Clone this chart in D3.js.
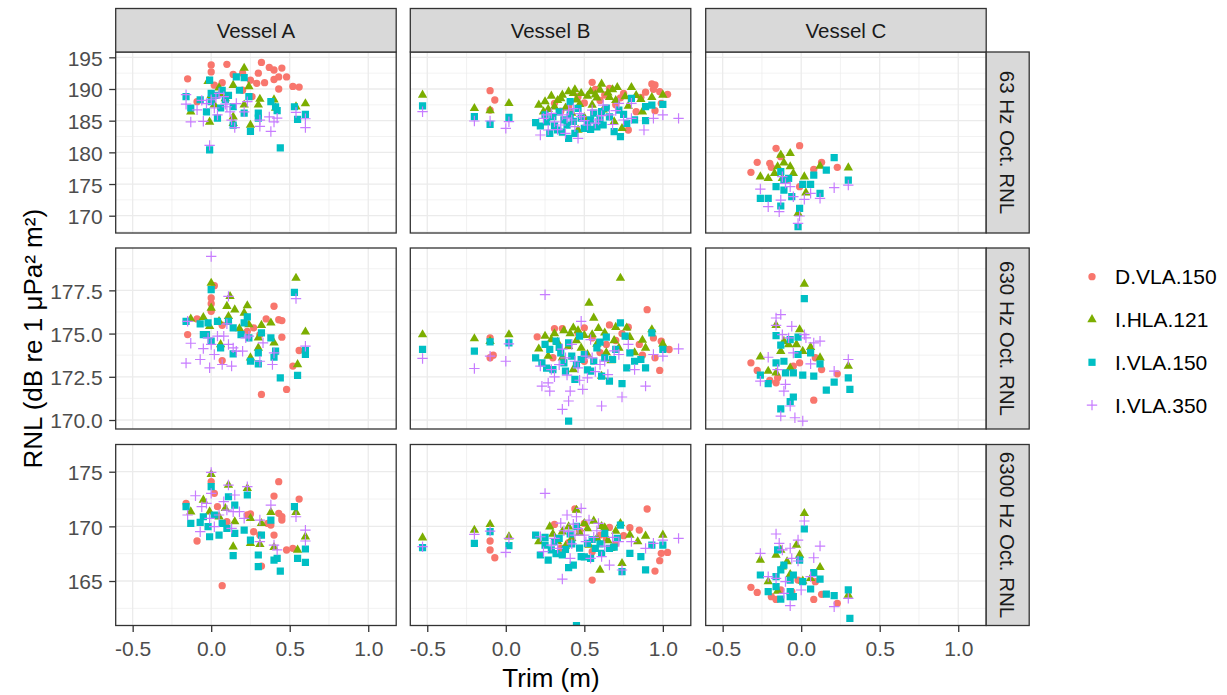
<!DOCTYPE html>
<html>
<head>
<meta charset="utf-8">
<script src="https://cdn.jsdelivr.net/npm/d3@7"></script>
<style>
  body { margin: 0; background: #ffffff; }
  svg { display: block; font-family: "Liberation Sans", Arial, sans-serif; }
</style>
</head>
<body>
<svg id="chart" width="1227" height="695"></svg>
<script>
// Facet labels, series and tick values
const vessels = ["Vessel A", "Vessel B", "Vessel C"];
const bands = ["63 Hz Oct. RNL", "630 Hz Oct. RNL", "6300 Hz Oct. RNL"];
const seriesNames = ["D.VLA.150", "I.HLA.121", "I.VLA.150", "I.VLA.350"];
const seriesColors = ["#F8766D", "#7CAE00", "#00BFC4", "#C77CFF"];
const xTicks = [-0.5, 0, 0.5, 1.0];
const yTicks63 = [170, 175, 180, 185, 190, 195];
const yTicks630 = [170, 172.5, 175, 177.5];
const yTicks6300 = [165, 170, 175];
const xDomain = [-0.608, 1.178];
const yDomain63 = [167.27, 195.84];
const yDomain630 = [169.48, 179.95];
const yDomain6300 = [160.93, 177.49];

// [trim (m), RNL (dB)] per vessel, band and array
const A63_D = [[-0.15,191.6],[0,193.8],[0,192.7],[0.1,193.9],[0.07,191.0],[0.14,192.3],[0.2,192.5],[0.25,191.4],[0.29,190.9],[0.32,194.2],[0.3,192.5],[0.37,193.4],[0.4,193.0],[0.45,193.3],[0.4,191.5],[0.43,191.9],[0.48,191.9],[0.43,190.0],[0.52,190.4],[0.56,190.3],[0.34,191.0],[-0.09,188.0],[0.02,190.6],[0.2,189.8],[0.26,188.8]];
const A63_H = [[-0.13,186.4],[-0.02,191.2],[-0.01,184.8],[0.06,189.3],[0.14,190.6],[0.21,193.3],[0.24,190.4],[0.21,187.5],[0.31,188.4],[0.3,187.5],[0.25,184.3],[0.4,188.3],[0.41,187.0],[0.54,187.2],[0.6,187.7],[0.14,185.6],[0.09,188.5],[0.02,187.5],[0.14,184.6],[0.0,189.0],[0.05,190.2]];
const A63_V = [[-0.16,188.8],[-0.13,187.0],[-0.07,188.3],[-0.01,191.4],[-0.01,180.4],[0,189.3],[-0.03,186.4],[0.04,185.4],[0.07,189.8],[0.11,189.0],[0.16,191.9],[0.21,191.8],[0.18,189.8],[0.24,188.8],[0.14,187.2],[0.14,184.3],[0.21,186.2],[0.25,183.3],[0.3,186.2],[0.38,188.0],[0.41,187.2],[0.42,186.6],[0.44,180.7],[0.53,187.2],[0.55,185.2],[0.6,186.0],[0.3,185.4],[0.06,187.0],[0.0,188.0],[0.03,189.0],[0.09,188.3]];
const A63_W = [[-0.16,189.1],[-0.16,187.6],[-0.13,184.8],[-0.05,184.9],[-0.01,181.1],[0,188.3],[0.02,187.0],[0.04,185.9],[0.08,188.8],[0.1,187.2],[0.13,185.1],[0.16,187.7],[0.15,183.9],[0.23,188.0],[0.21,186.4],[0.31,185.1],[0.31,184.1],[0.37,185.6],[0.38,183.3],[0.4,184.8],[0.42,185.4],[0.54,186.3],[0.6,185.3],[0.6,183.9],[-0.03,187.7],[-0.09,186.7],[0.12,186.4],[0.05,189.3],[0.03,188.6],[-0.06,188.2],[0.09,187.6]];

const A630_D = [[-0.15,174.94],[-0.09,175.85],[0.02,177.77],[0,177.06],[0,176.73],[0,176.29],[0.07,175.48],[0.07,173.44],[0.27,175.33],[0.35,175.85],[0.4,176.58],[0.43,175.8],[0.45,175.75],[0.45,174.79],[0.32,171.48],[0.48,171.77],[0.52,173.12],[0.56,174.02],[0.31,174.94],[0.23,175.13]];
const A630_H = [[-0.13,175.85],[-0.05,175.94],[0,177.92],[0,176.48],[-0.01,175.42],[0.05,175.71],[0.1,176.58],[0.12,177.15],[0.15,176.38],[0.11,176.0],[0.23,176.62],[0.21,176.19],[0.24,175.52],[0.18,175.29],[0.32,175.48],[0.38,175.62],[0.4,174.46],[0.3,174.75],[0.3,174.17],[0.25,173.6],[0.54,178.21],[0.55,173.21],[0.6,175.1],[0.06,174.37]];
const A630_V = [[-0.16,175.71],[-0.07,175.56],[0,177.54],[-0.02,175.62],[-0.03,174.94],[0,174.56],[0.04,175.71],[0.06,174.17],[0.11,175.71],[0.14,175.33],[0.14,173.83],[0.19,174.94],[0.21,175.62],[0.23,175.96],[0.24,174.75],[0.25,173.4],[0.3,173.25],[0.3,173.88],[0.32,175.04],[0.38,174.75],[0.41,173.98],[0.4,173.63],[0.44,172.44],[0.53,177.38],[0.55,172.58],[0.6,174.02],[0.6,173.79],[-0.05,174.94]];
const A630_W = [[0,179.46],[-0.16,173.29],[-0.15,175.71],[-0.13,174.44],[-0.07,173.5],[-0.05,174.13],[-0.02,174.75],[-0.01,173.02],[0,174.37],[0.02,173.79],[0.04,174.85],[0.07,173.21],[0.08,174.85],[0.1,175.56],[0.11,177.15],[0.11,174.37],[0.13,173.12],[0.14,174.17],[0.16,173.98],[0.2,173.98],[0.22,174.75],[0.24,174.85],[0.31,173.4],[0.33,174.46],[0.39,173.21],[0.4,173.88],[0.54,177.02],[0.6,174.27]];

const A6300_D = [[-0.16,172.1],[-0.09,168.66],[0,174.09],[0.02,173.02],[0.07,164.57],[0.04,171.8],[0.1,170.43],[0.23,171.04],[0.25,171.13],[0.27,169.51],[0.31,169.2],[0.32,166.37],[0.36,170.27],[0.4,172.77],[0.43,174.09],[0.4,169.2],[0.43,171.19],[0.45,170.58],[0.45,170.88],[0.48,167.84],[0.52,167.99],[0.56,172.5],[0.38,170.12]];
const A6300_H = [[-0.13,171.34],[-0.05,172.41],[0,174.76],[-0.01,171.34],[0.05,170.88],[0.11,173.78],[0.14,168.14],[0.15,170.43],[0.23,173.48],[0.25,170.73],[0.25,168.45],[0.31,168.35],[0.32,170.27],[0.38,171.28],[0.4,168.08],[0.54,171.28],[0.55,167.84],[0.6,169.05],[0.09,171.65]];
const A6300_V = [[-0.16,171.8],[-0.13,170.27],[-0.07,170.37],[-0.05,170.88],[-0.02,169.97],[-0.01,169.05],[0,173.63],[0.02,171.04],[0.05,169.2],[0.07,170.27],[0.1,169.82],[0.11,172.71],[0.14,167.32],[0.15,169.36],[0.15,171.95],[0.21,169.66],[0.23,172.87],[0.25,168.75],[0.3,166.31],[0.3,167.38],[0.32,169.2],[0.38,170.58],[0.4,166.92],[0.42,167.07],[0.44,165.91],[0.53,171.8],[0.55,167.07],[0.6,166.71],[0.6,167.93]];
const A6300_W = [[0,174.94],[-0.15,171.04],[-0.1,172.8],[-0.07,169.51],[-0.06,171.8],[-0.03,172.1],[-0.01,170.73],[0,173.02],[0.02,169.97],[0.05,171.04],[0.08,172.26],[0.1,171.49],[0.11,173.78],[0.13,169.82],[0.14,171.34],[0.15,172.87],[0.18,171.34],[0.21,170.73],[0.23,173.63],[0.31,170.58],[0.31,168.6],[0.38,171.95],[0.4,168.29],[0.42,167.84],[0.54,170.88],[0.6,169.66],[0.6,168.66]];

const B63_D = [[-0.1,189.74],[-0.07,188.26],[-0.1,186.68],[0.55,191.05],[0.57,189.95],[0.63,189.05],[0.75,189.32],[0.78,183.53],[0.86,188.68],[0.83,186.42],[0.93,190.79],[0.95,190.63],[0.94,189.95],[0.98,189.58],[1.03,189.16],[0.95,186.58],[0.99,187.74],[0.31,187.74],[0.46,188.79],[0.4,187.2],[0.6,188.2],[0.7,187.5],[0.35,186.5],[0.5,187.8],[0.66,190.1],[0.89,189.5],[0.73,188.6]];
const B63_H = [[-0.53,189.05],[-0.2,186.95],[-0.1,186.58],[0.02,187.74],[0.21,187.47],[0.25,188.0],[0.29,188.89],[0.36,189.05],[0.4,189.58],[0.43,189.32],[0.48,189.32],[0.54,189.58],[0.61,190.79],[0.6,189.84],[0.66,188.68],[0.71,190.26],[0.76,188.79],[0.8,190.26],[0.86,188.37],[0.93,188.68],[1.0,189.05],[0.24,186.42],[0.46,183.53],[0.69,184.84],[0.74,183.79],[0.87,186.42],[0.31,187.21],[0.55,187.47],[0.33,188.2],[0.38,187.0],[0.45,188.3],[0.52,188.9],[0.58,188.6],[0.65,189.4],[0.7,188.2],[0.78,187.3],[0.27,186.8],[0.42,186.2],[0.5,185.5],[0.62,186.7],[0.35,188.5],[0.44,189.9],[0.57,189.1],[0.68,189.9],[0.83,189.0],[0.47,187.6]];
const B63_V = [[-0.53,187.32],[-0.2,185.63],[-0.1,184.42],[0.02,185.53],[0.19,184.68],[0.22,184.16],[0.25,185.9],[0.28,183.0],[0.33,183.53],[0.37,185.11],[0.4,182.21],[0.41,188.0],[0.44,183.0],[0.5,183.79],[0.54,185.11],[0.54,183.63],[0.61,186.42],[0.62,184.32],[0.69,183.26],[0.73,182.47],[0.72,186.68],[0.77,184.58],[0.8,188.53],[0.89,187.21],[0.93,187.47],[1.0,187.58],[0.89,185.0],[0.82,185.11],[0.6,185.11],[0.46,186.95],[0.3,185.63],[0.34,186.4],[0.39,184.3],[0.48,185.4],[0.56,186.2],[0.66,185.6],[0.26,184.8],[0.43,184.9],[0.52,184.5],[0.36,183.2],[0.41,185.9],[0.58,184.0],[0.64,187.0],[0.75,186.0],[0.31,184.2]];
const B63_W = [[-0.53,186.42],[-0.2,184.95],[-0.1,184.95],[0,183.79],[0.02,184.84],[0.22,182.74],[0.24,185.37],[0.27,183.53],[0.29,186.16],[0.35,184.32],[0.38,183.0],[0.4,186.68],[0.42,185.11],[0.46,182.21],[0.48,185.63],[0.52,184.32],[0.55,186.68],[0.59,185.11],[0.62,187.47],[0.66,185.9],[0.72,187.74],[0.75,185.11],[0.8,185.37],[0.8,187.74],[0.88,183.53],[0.94,185.37],[1.0,185.9],[1.1,185.37],[0.36,185.9],[0.44,184.05],[0.31,184.8],[0.39,185.4],[0.47,186.1],[0.57,184.6],[0.68,184.4],[0.33,183.6],[0.43,186.9],[0.5,185.0],[0.61,185.8],[0.7,186.6],[0.26,185.9]];

const B630_D = [[-0.1,174.75],[-0.08,173.75],[-0.1,173.6],[0.2,174.81],[0.31,175.29],[0.36,175.29],[0.46,175.04],[0.5,175.33],[0.64,174.37],[0.78,175.37],[0.85,174.37],[0.9,176.38],[0.94,174.75],[0.99,174.56],[0.98,172.87],[1.04,174.08],[0.95,173.6],[0.55,174.75],[0.87,173.75],[0.4,174.3],[0.6,173.9],[0.7,174.6],[0.3,173.6],[0.5,173.4],[0.74,175.0],[0.66,175.5]];
const B630_H = [[-0.53,174.94],[-0.2,174.71],[-0.1,174.56],[0.02,174.94],[0.25,174.85],[0.29,174.65],[0.37,175.17],[0.43,175.33],[0.46,175.17],[0.53,176.77],[0.56,175.9],[0.63,175.04],[0.7,175.37],[0.73,178.21],[0.77,175.33],[0.79,174.79],[0.87,174.62],[0.93,175.23],[1.0,174.4],[0.21,174.12],[0.4,174.27],[0.48,174.17],[0.55,174.94],[0.61,172.54],[0.67,173.44],[0.72,174.17],[0.89,174.17],[0.43,172.92],[0.52,173.79],[0.33,174.5],[0.36,173.6],[0.45,174.6],[0.58,174.4],[0.64,173.9],[0.82,173.9],[0.27,173.7],[0.5,174.9],[0.41,175.0],[0.59,175.3],[0.69,174.6],[0.31,175.0]];
const B630_V = [[-0.53,174.08],[-0.2,173.98],[-0.1,174.52],[0.02,174.46],[0.19,173.6],[0.23,173.31],[0.25,174.37],[0.28,174.08],[0.3,172.92],[0.35,173.88],[0.38,172.83],[0.4,174.46],[0.4,169.94],[0.44,172.35],[0.47,174.85],[0.5,173.79],[0.54,172.83],[0.58,174.17],[0.61,172.54],[0.63,173.6],[0.66,172.25],[0.7,174.08],[0.73,175.62],[0.74,172.1],[0.76,174.85],[0.79,173.88],[0.77,173.02],[0.86,173.5],[0.89,173.02],[0.93,175.04],[1.0,174.08],[0.32,174.56],[0.37,173.3],[0.42,173.7],[0.45,173.2],[0.52,172.9],[0.56,173.4],[0.6,174.5],[0.68,173.5],[0.26,173.0],[0.34,174.2],[0.48,173.5],[0.64,174.8],[0.82,173.4]];
const B630_W = [[-0.53,173.56],[-0.2,172.98],[-0.1,173.69],[0,173.4],[0.02,174.4],[0.25,177.25],[0.22,173.12],[0.23,171.96],[0.27,172.15],[0.28,171.67],[0.36,170.62],[0.38,173.6],[0.4,171.1],[0.41,171.67],[0.42,174.37],[0.44,173.4],[0.48,175.71],[0.49,171.77],[0.52,172.44],[0.54,174.65],[0.55,173.6],[0.6,173.21],[0.61,170.81],[0.65,172.63],[0.72,173.79],[0.74,171.33],[0.78,174.37],[0.82,172.92],[0.89,171.96],[0.94,173.79],[1.0,173.69],[1.1,174.12],[0.29,172.92],[0.46,173.02],[0.34,173.2],[0.39,172.6],[0.47,172.3],[0.57,172.8],[0.31,172.5],[0.36,174.1],[0.51,173.7],[0.63,173.4],[0.69,174.0]];

const B6300_D = [[-0.1,168.66],[-0.1,167.84],[-0.07,167.13],[0.31,170.18],[0.44,171.59],[0.5,170.27],[0.55,165.09],[0.64,168.84],[0.79,169.88],[0.85,169.66],[0.9,171.59],[0.95,165.91],[0.98,166.86],[0.99,167.53],[1.03,167.62],[0.75,169.15],[0.55,167.68],[0.4,168.5],[0.6,169.2],[0.35,168.0],[0.7,168.4],[0.47,169.6],[0.66,169.9]];
const B6300_H = [[-0.53,168.96],[-0.2,169.66],[-0.1,170.18],[0.02,169.05],[0.28,169.97],[0.36,169.51],[0.4,169.97],[0.45,171.49],[0.5,170.27],[0.56,170.49],[0.63,169.88],[0.7,169.57],[0.73,170.27],[0.79,169.21],[0.89,169.12],[1.0,169.21],[0.6,166.01],[0.74,166.62],[0.53,168.29],[0.67,167.99],[0.21,168.6],[0.33,168.6],[0.42,168.9],[0.47,169.4],[0.58,168.9],[0.65,168.7],[0.38,168.2],[0.3,169.3],[0.52,169.8],[0.61,170.0],[0.84,168.6]];
const B6300_V = [[-0.53,168.05],[-0.2,168.45],[-0.1,169.51],[0.02,168.23],[0.19,169.2],[0.22,167.38],[0.25,168.29],[0.27,166.92],[0.31,168.6],[0.36,167.38],[0.4,166.22],[0.43,166.46],[0.45,170.0],[0.45,160.91],[0.48,167.23],[0.52,168.45],[0.54,167.07],[0.61,167.53],[0.63,169.36],[0.66,167.99],[0.73,170.12],[0.74,165.85],[0.79,167.53],[0.86,167.23],[0.89,166.01],[0.93,168.29],[1.0,168.29],[0.29,167.84],[0.57,167.99],[0.34,168.9],[0.38,167.9],[0.42,168.4],[0.47,168.0],[0.5,167.2],[0.6,168.4],[0.69,168.1],[0.25,169.0],[0.41,169.3],[0.55,168.8],[0.71,168.9],[0.32,167.5]];
const B6300_W = [[-0.53,168.14],[-0.2,169.27],[-0.1,169.57],[0,167.62],[0.02,168.9],[0.25,173.02],[0.22,169.05],[0.24,167.68],[0.29,168.29],[0.36,165.18],[0.39,171.04],[0.4,169.51],[0.41,167.07],[0.45,170.88],[0.48,171.65],[0.5,169.2],[0.53,170.58],[0.54,167.07],[0.59,170.27],[0.61,167.23],[0.66,166.46],[0.72,168.6],[0.74,166.01],[0.8,168.6],[0.89,167.99],[0.94,168.45],[1.0,168.75],[1.1,168.9],[0.33,167.99],[0.44,169.2],[0.37,169.6],[0.42,168.4],[0.46,169.8],[0.56,169.0],[0.63,168.2],[0.31,168.9],[0.35,170.3],[0.43,170.2],[0.51,168.6],[0.58,169.6],[0.68,169.0]];

const C63_D = [[-0.32,176.84],[-0.28,178.42],[-0.2,178.26],[-0.19,177.63],[-0.16,180.63],[-0.13,179.32],[-0.01,181.05],[0.08,177.32],[0.13,178.42],[0.23,177.63],[-0.09,175.63],[-0.01,174.58]];
const C63_H = [[-0.26,176.16],[-0.21,175.89],[-0.17,176.68],[-0.13,179.58],[-0.07,179.84],[-0.15,177.74],[-0.11,178.37],[-0.07,177.74],[-0.05,176.68],[0.02,176.16],[0.12,177.84],[0.3,177.58],[-0.02,170.37],[0.03,173.63],[-0.12,175.89]];
const C63_V = [[-0.26,172.74],[-0.21,172.74],[-0.16,174.58],[-0.13,176.95],[-0.11,175.63],[-0.08,175.89],[-0.13,171.53],[-0.06,173.0],[-0.01,171.16],[-0.02,168.26],[0.01,174.95],[0.06,174.95],[0.08,176.42],[0.16,177.21],[0.21,179.16],[0.12,173.53],[0.3,175.63],[-0.11,174.05]];
const C63_W = [[-0.26,174.21],[-0.21,171.42],[-0.14,170.63],[-0.12,176.16],[-0.1,175.11],[-0.07,174.58],[-0.05,173.0],[-0.02,168.79],[0.02,172.58],[0.06,173.53],[0.12,172.74],[0.21,174.42],[0.3,174.84],[-0.13,172.47],[-0.01,169.95]];

const C630_D = [[-0.32,173.31],[-0.28,172.87],[-0.2,172.29],[-0.16,172.15],[-0.15,172.44],[-0.01,173.31],[0.09,173.6],[0.13,172.92],[0.08,171.15],[0.23,172.67],[-0.05,173.12]];
const C630_H = [[-0.26,173.65],[-0.21,172.83],[-0.16,175.48],[-0.13,173.98],[-0.11,174.56],[-0.08,174.37],[-0.07,173.02],[-0.01,175.23],[-0.03,174.37],[0.02,177.87],[0.01,173.98],[0.06,174.21],[0.12,173.6],[0.3,173.12],[-0.16,172.73]];
const C630_V = [[-0.26,172.6],[-0.21,172.1],[-0.16,174.88],[-0.13,174.33],[-0.16,173.31],[-0.11,173.4],[-0.1,172.73],[-0.07,174.65],[-0.05,172.73],[-0.02,174.79],[-0.02,173.79],[0.02,177.02],[0.01,172.6],[0.06,173.88],[0.08,172.54],[0.12,173.25],[0.16,171.73],[0.21,172.19],[0.3,172.44],[0.31,171.77],[-0.05,171.33],[-0.07,171.06],[-0.13,170.65]];
const C630_W = [[-0.16,175.9],[-0.13,176.1],[-0.16,175.48],[-0.06,175.42],[-0.12,174.94],[-0.08,174.75],[0.02,174.94],[0.03,174.75],[-0.05,173.88],[-0.21,173.63],[-0.26,172.25],[-0.1,172.06],[-0.11,171.67],[-0.07,170.81],[-0.13,170.23],[-0.04,170.13],[0.01,169.94],[0.06,173.25],[0.08,174.46],[0.12,174.56],[0.21,172.83],[0.3,173.5],[-0.15,172.92]];

const C6300_D = [[-0.32,164.42],[-0.28,163.96],[-0.19,163.57],[-0.16,163.32],[-0.06,164.02],[-0.02,165.09],[0.08,163.32],[0.09,164.94],[0.13,163.78],[0.23,162.96],[-0.13,164.18]];
const C6300_H = [[-0.26,166.92],[-0.21,164.94],[-0.16,167.38],[-0.13,167.84],[-0.12,166.31],[-0.09,166.77],[-0.07,165.61],[-0.03,168.29],[-0.01,167.38],[0.02,171.19],[0.01,165.0],[0.06,165.24],[0.12,166.25],[0.3,163.72],[-0.15,164.09]];
const C6300_V = [[-0.26,165.55],[-0.21,164.02],[-0.16,164.48],[-0.15,167.84],[-0.13,166.01],[-0.11,166.46],[-0.16,165.4],[-0.07,165.09],[-0.05,165.55],[-0.07,163.57],[-0.13,163.35],[-0.05,163.57],[-0.01,166.92],[0.02,169.76],[0.01,164.94],[0.06,164.27],[0.08,165.76],[0.12,165.18],[0.16,163.81],[0.21,163.66],[0.3,164.18],[0.31,161.59],[-0.07,164.02]];
const C6300_W = [[-0.26,167.53],[-0.16,169.3],[-0.14,168.45],[-0.12,167.84],[-0.07,168.0],[-0.06,167.07],[-0.02,168.75],[0.02,170.49],[-0.02,166.83],[0.08,167.13],[0.12,168.2],[0.06,165.4],[0,164.18],[-0.16,165.24],[-0.1,164.94],[-0.11,163.87],[-0.07,162.74],[0.21,162.65],[0.3,163.41],[-0.21,165.4]];

// facets[column][row] -> one point list per array, in legend order
const facets = [
  [[A63_D, A63_H, A63_V, A63_W], [A630_D, A630_H, A630_V, A630_W], [A6300_D, A6300_H, A6300_V, A6300_W]],
  [[B63_D, B63_H, B63_V, B63_W], [B630_D, B630_H, B630_V, B630_W], [B6300_D, B6300_H, B6300_V, B6300_W]],
  [[C63_D, C63_H, C63_V, C63_W], [C630_D, C630_H, C630_V, C630_W], [C6300_D, C6300_H, C6300_V, C6300_W]]
];

// ---- layout ----
const svg = d3.select("#chart");
const colX = [115.7, 410.3, 705.7], panelW = 280.5;
const rowY = [52, 248, 444.5], panelH = 181;
const stripTop = 8.5;
const stripRightW = 43;
const gridCol = "#EBEBEB", darkCol = "#333333";
const lineW = 1.3;

const x = d3.scaleLinear().domain(xDomain).range([0, panelW]);
const yScales = [yDomain63, yDomain630, yDomain6300].map(d => d3.scaleLinear().domain(d).range([panelH, 0]));
const yTickSets = [yTicks63, yTicks630, yTicks6300];
const yFormats = [d => String(d), d => d.toFixed(1), d => String(d)];
const xFormat = d => d.toFixed(1);

function minorBreaks(ticks, domain) {
  const step = ticks[1] - ticks[0];
  const out = [];
  for (let v = ticks[0] - step / 2; v <= domain[1]; v += step) {
    if (v >= domain[0]) out.push(v);
  }
  return out;
}

// point glyphs: filled circle, filled triangle, filled square, stroked plus
const glyphs = [
  d3.symbol(d3.symbolCircle, 42)(),
  d3.symbol(d3.symbolTriangle, 38)(),
  d3.symbol(d3.symbolSquare, 52)(),
  "M-5.2,0H5.2M0,-5.2V5.2"
];
function drawGlyph(sel, i) {
  sel.attr("d", glyphs[i]);
  if (i === 3) sel.attr("fill", "none").attr("stroke", seriesColors[i]).attr("stroke-width", 1.2);
  else sel.attr("fill", seriesColors[i]).attr("stroke", "none");
}

const defs = svg.append("defs");
defs.append("clipPath").attr("id", "panelClip")
  .append("rect").attr("width", panelW).attr("height", panelH);

facets.forEach((col, c) => {
  col.forEach((rowSeries, r) => {
    const y = yScales[r];
    const g = svg.append("g").attr("transform", `translate(${colX[c]},${rowY[r]})`);
    g.append("rect").attr("width", panelW).attr("height", panelH).attr("fill", "#fff");

    const grid = g.append("g");
    const yMinor = minorBreaks(yTickSets[r], y.domain());
    const xMinor = minorBreaks(xTicks, x.domain());
    grid.selectAll(".ymin").data(yMinor).join("line")
      .attr("x1", 0).attr("x2", panelW).attr("y1", d => y(d)).attr("y2", d => y(d))
      .attr("stroke", gridCol).attr("stroke-width", lineW / 2);
    grid.selectAll(".xmin").data(xMinor).join("line")
      .attr("y1", 0).attr("y2", panelH).attr("x1", d => x(d)).attr("x2", d => x(d))
      .attr("stroke", gridCol).attr("stroke-width", lineW / 2);
    grid.selectAll(".ymaj").data(yTickSets[r]).join("line")
      .attr("x1", 0).attr("x2", panelW).attr("y1", d => y(d)).attr("y2", d => y(d))
      .attr("stroke", gridCol).attr("stroke-width", lineW);
    grid.selectAll(".xmaj").data(xTicks).join("line")
      .attr("y1", 0).attr("y2", panelH).attr("x1", d => x(d)).attr("x2", d => x(d))
      .attr("stroke", gridCol).attr("stroke-width", lineW);

    const pts = g.append("g").attr("clip-path", "url(#panelClip)");
    rowSeries.forEach((data, s) => {
      pts.append("g").selectAll("path").data(data).join("path")
        .attr("transform", d => `translate(${x(d[0])},${y(d[1])})`)
        .call(drawGlyph, s);
    });

    g.append("rect").attr("width", panelW).attr("height", panelH)
      .attr("fill", "none").attr("stroke", darkCol).attr("stroke-width", lineW);

    // y axis on the first column
    if (c === 0) {
      const ax = g.append("g").call(d3.axisLeft(y).tickValues(yTickSets[r]).tickFormat(yFormats[r])
        .tickSize(6.5).tickPadding(6.5));
      ax.select(".domain").remove();
      ax.selectAll(".tick line").attr("stroke", darkCol).attr("stroke-width", lineW);
      ax.selectAll(".tick text").attr("fill", "#4D4D4D").attr("font-size", 21)
        .attr("font-family", "Liberation Sans, Arial, sans-serif").attr("dy", "0.38em");
    }
    // x axis on the bottom row
    if (r === 2) {
      const ax = g.append("g").attr("transform", `translate(0,${panelH})`)
        .call(d3.axisBottom(x).tickValues(xTicks).tickFormat(xFormat).tickSize(6.5).tickPadding(8.8));
      ax.select(".domain").remove();
      ax.selectAll(".tick line").attr("stroke", darkCol).attr("stroke-width", lineW);
      ax.selectAll(".tick text").attr("fill", "#4D4D4D").attr("font-size", 21)
        .attr("font-family", "Liberation Sans, Arial, sans-serif");
    }
  });
});

// top strips (vessel)
vessels.forEach((v, c) => {
  svg.append("rect").attr("x", colX[c]).attr("y", stripTop)
    .attr("width", panelW).attr("height", rowY[0] - stripTop)
    .attr("fill", "#D9D9D9").attr("stroke", darkCol).attr("stroke-width", lineW);
  svg.append("text").attr("x", colX[c] + panelW / 2).attr("y", (stripTop + rowY[0]) / 2)
    .attr("dy", "0.36em").attr("text-anchor", "middle")
    .attr("font-size", 20.5).attr("fill", "#1A1A1A").text(v);
});

// right strips (band)
const stripRX = colX[2] + panelW;
bands.forEach((b, r) => {
  svg.append("rect").attr("x", stripRX).attr("y", rowY[r])
    .attr("width", stripRightW).attr("height", panelH)
    .attr("fill", "#D9D9D9").attr("stroke", darkCol).attr("stroke-width", lineW);
  svg.append("text")
    .attr("transform", `translate(${stripRX + stripRightW / 2},${rowY[r] + panelH / 2}) rotate(90)`)
    .attr("dy", "0.36em").attr("text-anchor", "middle")
    .attr("font-size", 20.5).attr("fill", "#1A1A1A").text(b);
});

// axis titles
svg.append("text")
  .attr("x", colX[0] + (colX[2] + panelW - colX[0]) / 2).attr("y", 687)
  .attr("text-anchor", "middle").attr("font-size", 26).attr("fill", "#000").text("Trim (m)");
svg.append("text")
  .attr("transform", `translate(42,${(rowY[0] + rowY[2] + panelH) / 2}) rotate(-90)`)
  .attr("text-anchor", "middle").attr("font-size", 26).attr("fill", "#000")
  .text("RNL (dB re 1 μPa² m²)");

// legend
const legend = svg.append("g").attr("transform", "translate(1092,276.7)");
seriesNames.forEach((name, i) => {
  const item = legend.append("g").attr("transform", `translate(0,${i * 42.8})`);
  item.append("path").call(drawGlyph, i);
  item.append("text").attr("x", 23).attr("dy", "0.36em")
    .attr("font-size", 21).attr("fill", "#000").text(name);
});
</script>
</body>
</html>
